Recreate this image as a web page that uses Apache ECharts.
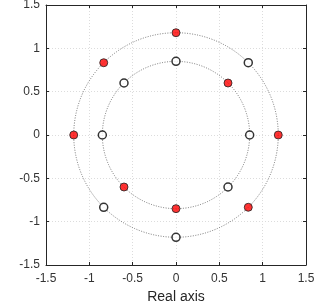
<!DOCTYPE html>
<html><head><meta charset="utf-8">
<script src="https://cdn.jsdelivr.net/npm/echarts@6/dist/echarts.min.js"></script>
<style>html,body{margin:0;padding:0;background:#fff}#c{width:315px;height:304px}</style>
</head><body><div id="c"></div>
<script>
const axisMin = -1.5;
const axisMax = 1.5;
const tickStep = 0.5;
const circleRadii = [0.85, 1.18];
const redX = [0, -0.834, -1.18, 0.6, -0.6, 0, 0.834, 1.18];
const redY = [1.18, 0.834, 0, 0.6, -0.6, -0.85, -0.834, 0];
const whiteX = [0, -0.6, -0.85, 0.834, 0.85, 0.6, -0.834, 0];
const whiteY = [0.85, 0.6, 0, 0.834, 0, -0.6, -0.834, -1.18];
const xName = 'Real axis';

const font = '"Liberation Sans", Arial, sans-serif';
const txt = '#262626';
function mkAxis(pos, isX, primary) {
  return {
    type: 'value', position: pos, min: axisMin, max: axisMax, interval: tickStep,
    name: primary && isX ? xName : '', nameLocation: 'middle', nameGap: 25,
    nameTextStyle: {color: txt, fontSize: 14, fontFamily: font},
    axisLine: {show: true, onZero: false, lineStyle: {color: txt, width: 1}},
    axisTick: {show: true, inside: true, length: 3, lineStyle: {color: txt}},
    axisLabel: {show: primary, color: '#333', fontSize: 12, fontFamily: font, margin: isX ? 8 : 6},
    splitLine: {show: primary, lineStyle: {color: '#dcdcdc', type: [1, 2], width: 1}}
  };
}
const chart = echarts.init(document.getElementById('c'));
chart.setOption({
  animation: false,
  grid: {left: 46, right: 9, top: 5, bottom: 39, containLabel: false, outerBoundsMode: 'none'},
  xAxis: [mkAxis('bottom', true, true), mkAxis('top', true, false)],
  yAxis: [mkAxis('left', false, true), mkAxis('right', false, false)],
  series: [
    {
      type: 'custom', xAxisIndex: 0, yAxisIndex: 0, z: 2,
      data: circleRadii.map(r => [0, 0, r]),
      renderItem: function (params, api) {
        const c = api.coord([api.value(0), api.value(1)]);
        const s = api.size([api.value(2), api.value(2)]);
        return {
          type: 'circle',
          shape: {cx: c[0], cy: c[1], r: s[0]},
          style: {fill: null, stroke: '#555', lineWidth: 0.8, lineDash: [1, 1.5]}
        };
      }
    },
    {
      type: 'scatter', z: 5, symbol: 'circle', symbolSize: 8,
      itemStyle: {color: '#ff0000', borderColor: '#222', borderWidth: 1},
      data: redX.map((x, i) => [x, redY[i]])
    },
    {
      type: 'scatter', z: 5, symbol: 'circle', symbolSize: 8,
      itemStyle: {color: '#ffffff', borderColor: '#000', borderWidth: 1.5},
      data: whiteX.map((x, i) => [x, whiteY[i]])
    }
  ]
});
</script></body></html>
